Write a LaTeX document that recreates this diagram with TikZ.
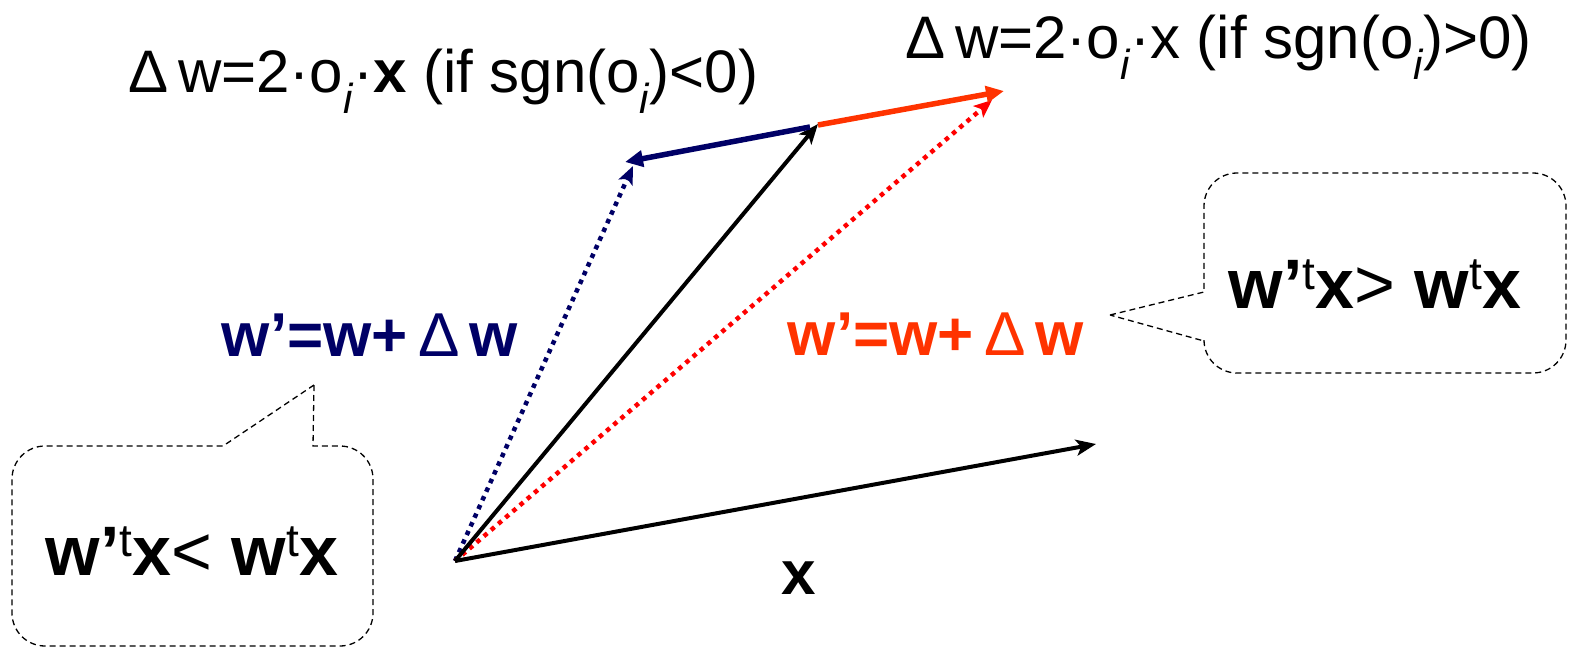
\documentclass[tikz,border=0pt]{standalone}
\usepackage{fontspec}
\setmainfont{Liberation Sans}
\usetikzlibrary{arrows.meta}
\definecolor{navyc}{RGB}{0,0,102}
\definecolor{orangec}{RGB}{255,51,0}
\definecolor{redc}{RGB}{255,0,0}
\tikzset{
  vec/.style={line width=4pt, -{Stealth[length=20pt,width=16pt,inset=5pt]}},
  dvec/.style={line width=5.5pt, -{Triangle[length=18pt,width=16pt]}},
  dotvec/.style={line width=4.5pt, dash pattern=on 4.5pt off 5pt, -{Stealth[length=18pt,width=15pt,inset=4pt]}},
  callout/.style={draw=black, line width=1.3pt, dash pattern=on 6pt off 4pt},
  txt/.style={inner sep=0pt, font=\fontsize{60}{62}\selectfont},
  lab/.style={inner sep=0pt, font=\fontsize{62}{64}\selectfont\bfseries},
  big/.style={inner sep=0pt, font=\fontsize{70}{72}\selectfont\bfseries},
}
\newcommand{\dlt}{{\mdseries\char"0394}}
\newcommand{\sub}[1]{\textsubscript{\itshape #1}}
\newcommand{\supt}{\raisebox{0.27em}{\fontsize{46}{46}\selectfont\mdseries t}}
\newcommand{\rel}[1]{{\mdseries #1}}
\begin{document}
\begin{tikzpicture}[x=1pt,y=-1pt]
\useasboundingbox (0,0) rectangle (1569,648);
% points
\coordinate (O) at (455,561);
\coordinate (W) at (818,124);
\coordinate (X) at (1096,444);
\coordinate (Ostart) at (818,125);
\coordinate (Oend) at (1004,91);
\coordinate (Rend) at (992,100);
\coordinate (Nstart) at (810,127);
\coordinate (Nend) at (625,162);
\coordinate (NDend) at (633,166);
% dotted resultants
\draw[dotvec, navyc] (O) -- (NDend);
\draw[dotvec, redc] (O) -- (Rend);
% w and x
\draw[vec] (O) -- (W);
\draw[vec] (O) -- (X);
% delta w
\draw[dvec, orangec] (Ostart) -- (Oend);
\draw[dvec, navyc] (Nstart) -- (Nend);
% labels
\node[txt, anchor=base west] (tl) at (128,92) {\dlt\,w=2·o\sub{i}·\textbf{x} (if sgn(o\sub{i})<0)};
\node[txt, anchor=base west] (tr) at (905,58) {\dlt\,w=2·o\sub{i}·x (if sgn(o\sub{i})>0)};
\node[lab, anchor=base, text=navyc] (nl) at (370,356) {w’=w+\,\dlt\,w};
\node[lab, anchor=base, text=orangec] (ol) at (936,355) {w’=w+\,\dlt\,w};
\node[lab, anchor=base] (xl) at (799,594) {x};
% callouts
\draw[callout] (1110,315) -- (1204,292) {[rounded corners=33] -- (1204,173) -- (1566,173) -- (1566,373) -- (1204,373)} -- (1204,341) -- cycle;
\draw[callout] (314,385) -- (313,446) {[rounded corners=33] -- (373,446) -- (373,646) -- (12,646) -- (12,446)} -- (223,446) -- cycle;
\node[big, anchor=base] (rc) at (1375,308) {w’\supt x\rel{>} w\supt x};
\node[big, anchor=base] (lc) at (192,575) {w’\supt x\rel{<} w\supt x};
\end{tikzpicture}
\end{document}
